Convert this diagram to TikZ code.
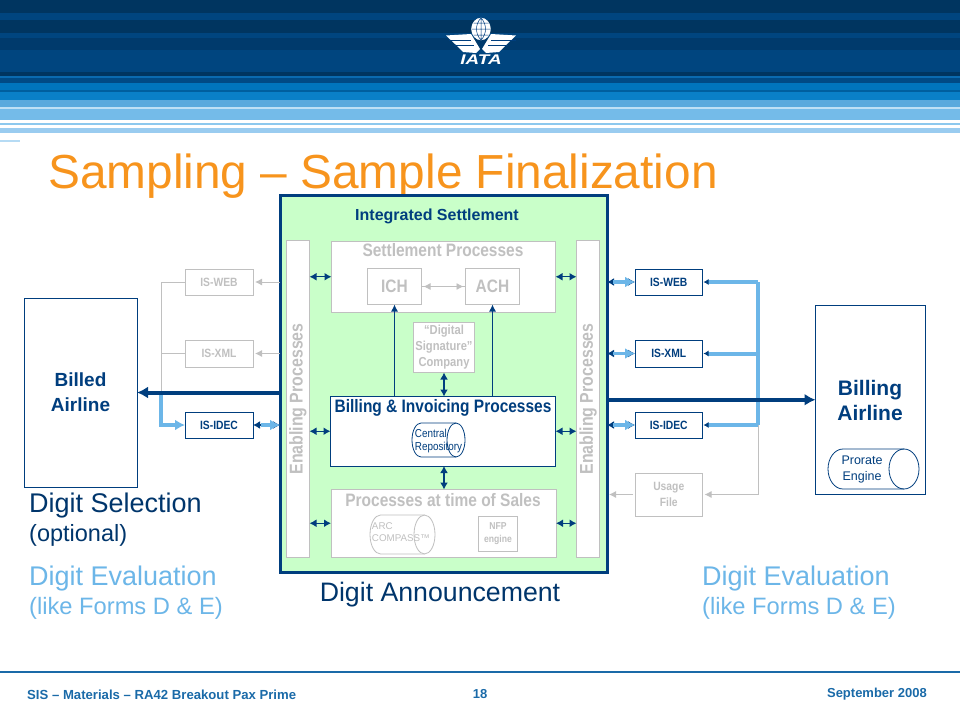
\documentclass[tikz,border=0pt]{standalone}
\usepackage{fontspec}
\setmainfont{Liberation Sans}
\newfontfamily\narrowfont[FakeStretch=0.86]{Liberation Sans}
\newfontfamily\logofont[FakeStretch=1.35]{Liberation Sans}
\usetikzlibrary{arrows.meta}
\definecolor{iatanavy}{HTML}{003E7E}
\definecolor{iatasky}{HTML}{6CB6E8}
\definecolor{iataorange}{HTML}{F7941D}
\definecolor{panelgreen}{HTML}{C9FFC9}
\definecolor{fadegray}{HTML}{C0C0C0}
\definecolor{footblue}{HTML}{1A6AA8}
% colour, left x, right x, middle y, half height, end radius
\newcommand{\drumbody}[6]{
  \draw[#1, line width=0.8pt] (#3-#6,#4-#5) -- (#2+#6,#4-#5) arc[start angle=-90, end angle=-270, x radius=#6, y radius=#5] -- (#3-#6,#4+#5);
  \draw[#1, line width=0.8pt] (#3-#6,#4) ellipse[x radius=#6, y radius=#5];
}
\tikzset{
  livebox/.style={draw=iatanavy, fill=white, line width=0.9pt, inner sep=0pt, outer sep=0pt, text=iatanavy, font=\narrowfont\bfseries\fontsize{12}{14}\selectfont, align=center},
  fadebox/.style={draw=fadegray, fill=white, line width=0.9pt, inner sep=0pt, outer sep=0pt, text=fadegray, font=\narrowfont\bfseries\fontsize{12}{15.5}\selectfont, align=center},
  sidebar/.style={fadebox, minimum width=23, minimum height=317},
  sidetext/.style={text=fadegray, rotate=90, inner sep=0pt, font=\narrowfont\fontsize{18.5}{20}\selectfont\bfseries},
  headtext/.style={inner sep=0pt, font=\narrowfont\bfseries\fontsize{18}{20}\selectfont},
  navyswap/.style={iatanavy, line width=1.4pt, {Latex[length=7pt,width=8pt]}-{Latex[length=7pt,width=8pt]}},
  navyup/.style={iatanavy, line width=1.1pt, -{Latex[length=7pt,width=7pt]}},
  fadeline/.style={fadegray, line width=0.9pt},
  fadearrow/.style={fadegray, line width=0.9pt, -{Latex[length=7pt,width=7pt]}, shorten >=2pt},
  skyline/.style={iatasky, line width=4pt},
  skyarrow/.style={iatasky, line width=3.5pt, -{Latex[length=10pt,width=11pt]}},
  skyin/.style={iatasky, line width=4pt, -{Latex[length=5pt,width=6pt,color=iatanavy]}, shorten >=1pt},
  trunk/.style={iatanavy, line width=4pt, -{Latex[length=11pt,width=12pt]}},
  bigtext/.style={anchor=west, inner sep=0pt},
}
\begin{document}
\begin{tikzpicture}[x=1pt,y=-1pt]
\useasboundingbox (0,0) rectangle (960,720);
% header stripes
\foreach \ya/\yb/\hex in {0/13/003560, 13/20/00457F, 20/33/003560, 33/38/00457F, 38/50/003A6C, 50/72/00457F, 72/76/003560, 76/78/0A6AB0, 78/83/004A85, 83/90/0075BD, 90/92/005F9F, 92/100/0A80C8, 100/107/5AA9DD, 107/109/BFE0F5, 109/120/74BBE9, 123/125/8CC8EE, 128/133/9ACCF0}{
  \definecolor{stripecol}{HTML}{\hex}
  \fill[stripecol] (0,\ya) rectangle (960,\yb);
}
\fill[iatasky!50] (0,139.5) rectangle (20,142);
% logo
\draw[white, fill=white, line width=0.4pt] (481,29) ellipse (9.5 and 11);
\draw[iatanavy, line width=0.5pt] (481,18) -- (481,40) (481,18) .. controls (475,24) and (475,34) .. (481,40) (481,18) .. controls (487,24) and (487,34) .. (481,40)
  (472,29) -- (490.5,29) (473.5,23) -- (488.5,23) (473.5,35) -- (488.5,35);
\fill[white] (446,35.5) -- (471,34) -- (480,49) -- (476,53) -- (463,52) -- (455,44) -- cycle;
\fill[white] (516,35.5) -- (491,34) -- (482,49) -- (486,53) -- (499,52) -- (507,44) -- cycle;
\draw[iatanavy, line width=0.7pt] (449,40) -- (471,40) (454,45) -- (474,45) (516,40) -- (491,40) (508,45) -- (488,45);
\node[inner sep=0pt, text=white, font=\logofont\bfseries\itshape\fontsize{14}{15}\selectfont] (logotext) at (481,59.5) {IATA};
% title
\node[bigtext, text=iataorange, font=\fontsize{47.8}{50}\selectfont] (titletext) at (48,176) {Sampling – Sample Finalization};
% footer
\draw[footblue, line width=2pt] (0,672) -- (960,672);
\node[bigtext, text=footblue, font=\bfseries\fontsize{13.15}{15}\selectfont] (footleft) at (27,694.5) {SIS – Materials – RA42 Breakout Pax Prime};
\node[inner sep=0pt, text=footblue, font=\bfseries\fontsize{13}{15}\selectfont] (footpage) at (480,694.5) {18};
\node[anchor=east, inner sep=0pt, text=footblue, font=\bfseries\fontsize{13}{15}\selectfont] (footdate) at (927,694.5) {September 2008};
% main panel
\node[draw=iatanavy, fill=panelgreen, line width=3pt, outer sep=0pt, inner sep=0pt, minimum width=327, minimum height=377] (panel) at (443.5,383.5) {};
\node[inner sep=0pt, text=iatanavy, font=\bfseries\fontsize{16}{17}\selectfont] (paneltitle) at (437,216.5) {Integrated Settlement};
\node[sidebar] (enableL) at (298,398.5) {};
\node[sidebar] (enableR) at (588,398.5) {};
\node[sidetext] (enableLtext) at (298,399) {Enabling Processes};
\node[sidetext] (enableRtext) at (588,399) {Enabling Processes};
\node[fadebox, minimum width=224, minimum height=70.5] (settle) at (443.5,276.75) {};
\node[headtext, text=fadegray] (settletext) at (443,250) {Settlement Processes};
\node[fadebox, minimum width=54, minimum height=36, font=\narrowfont\bfseries\fontsize{18}{20}\selectfont] (ich) at (394.5,286.5) {ICH};
\node[fadebox, minimum width=54, minimum height=36, font=\narrowfont\bfseries\fontsize{18}{20}\selectfont] (ach) at (492.5,286.5) {ACH};
\node[fadebox, minimum width=61, minimum height=50, font=\narrowfont\bfseries\fontsize{13}{16}\selectfont] (digital) at (444,347.5) {“Digital\\Signature”\\Company};
\node[livebox, minimum width=225, minimum height=69.5] (billing) at (443,431.25) {};
\node[headtext, text=iatanavy] (billingtext) at (443,408) {Billing \& Invoicing Processes};
\drumbody{iatanavy}{412}{465}{440}{17}{9}
\node[inner sep=0pt, text=iatanavy, align=left, font=\narrowfont\fontsize{11.5}{13}\selectfont] (repotext) at (438.5,441.5) {Central\\Repository};
\node[fadebox, minimum width=225, minimum height=67.5] (sales) at (443.5,523.25) {};
\node[headtext, text=fadegray] (salestext) at (443,500) {Processes at time of Sales};
\drumbody{fadegray}{370}{435}{534.5}{19.5}{10.5}
\node[inner sep=0pt, text=fadegray, align=left, font=\fontsize{9.8}{12.5}\selectfont] (arctext) at (401,532) {ARC\\COMPASS™};
\node[fadebox, minimum width=39, minimum height=35, font=\narrowfont\bfseries\fontsize{10}{13}\selectfont] (nfp) at (498,534) {NFP\\engine};
% left gateways
\node[fadebox, minimum width=68, minimum height=26] (iswebL) at (219,282) {IS-WEB};
\node[fadebox, minimum width=68, minimum height=27] (isxmlL) at (219,353.5) {IS-XML};
\node[livebox, minimum width=68, minimum height=26] (isidecL) at (219,425) {IS-IDEC};
% right gateways
\node[livebox, minimum width=67.5, minimum height=26] (iswebR) at (668.75,282) {IS-WEB};
\node[livebox, minimum width=67.5, minimum height=27] (isxmlR) at (668.75,353.5) {IS-XML};
\node[livebox, minimum width=67.5, minimum height=26] (isidecR) at (668.75,425) {IS-IDEC};
\node[fadebox, minimum width=67.5, minimum height=43] (usage) at (668.75,494.5) {Usage\\File};
% airlines
\node[livebox, minimum width=113, minimum height=189, font=\bfseries\fontsize{19}{25}\selectfont] (billed) at (80.5,392.5) {Billed\\Airline};
\node[livebox, minimum width=110, minimum height=188.5] (biller) at (870.5,399.75) {};
\node[inner sep=0pt, text=iatanavy, align=center, font=\bfseries\fontsize{21}{25}\selectfont] (billertext) at (870,400.5) {Billing\\Airline};
\drumbody{iatanavy}{828}{919}{469}{20}{15}
\node[inner sep=0pt, text=iatanavy, align=center, font=\fontsize{12.5}{16}\selectfont] (proratetext) at (862,469) {Prorate\\Engine};
% branch points
\coordinate (branchL) at (161,393);
\coordinate (branchR) at (758,425);
\coordinate (branchTop) at (758,282);
% grey links
\draw[fadeline] (iswebL.west) -| (branchL);
\draw[fadeline] (isxmlL.west) -- (branchL |- isxmlL);
\draw[fadearrow] (panel.west |- iswebL) -- (iswebL.east);
\draw[fadearrow] (panel.west |- isxmlL) -- (isxmlL.east);
\draw[fadearrow] (ich.east) -- (ach.west);
\draw[fadearrow] (ach.west) -- (ich.east);
\draw[fadeline] (branchR) |- (usage.east -| branchR);
\draw[fadearrow] (usage.east -| branchR) -- (usage.east);
\draw[fadearrow] ([xshift=-2pt]usage.west) -- (panel.east |- usage);
% sky links
\draw[skyline] (branchL) |- ([xshift=-8pt]isidecL.west);
\draw[skyarrow, line width=4pt] ([xshift=-10pt]isidecL.west) -- (isidecL.west);
\draw[skyline] (branchTop) -- (branchR);
\draw[skyin] (branchTop) -- (iswebR.east);
\draw[skyin] (branchTop |- isxmlR) -- (isxmlR.east);
\draw[skyin] (branchR) -- (isidecR.east);
% trunk lines
\draw[trunk] (panel.west |- billed) -- (billed.east);
\draw[trunk] (panel.east |- biller) -- (biller.west);
% panel links
\draw[navyswap] (enableL.east |- settle) -- (settle.west);
\draw[navyswap] (settle.east) -- (enableR.west |- settle);
\draw[navyswap] (enableL.east |- billing) -- (billing.west);
\draw[navyswap] (billing.east) -- (enableR.west |- billing);
\draw[navyswap] (enableL.east |- sales) -- (sales.west);
\draw[navyswap] (sales.east) -- (enableR.west |- sales);
\draw[navyup] (ich.south |- billing.north) -- (ich.south);
\draw[navyup] (ach.south |- billing.north) -- (ach.south);
\draw[navyswap] (digital.south |- billing.north) -- (digital.south);
\draw[navyswap] (digital.south |- billing.south) -- (digital.south |- sales.north);
% gateway links
\draw[navyswap] (isidecL.east) -- (panel.west |- isidecL);
\draw[skyarrow] ([xshift=8pt]isidecL.east) -- (panel.west |- isidecL);
\foreach \gate in {iswebR, isxmlR, isidecR}{
  \draw[navyswap] (panel.east |- \gate) -- (\gate.west);
  \draw[skyarrow] ([xshift=6pt]panel.east |- \gate) -- (\gate.west);
}
% captions
\node[bigtext, text=iatanavy!85!black, font=\fontsize{27}{30}\selectfont] (selecttext) at (29,505.5) {Digit Selection};
\node[bigtext, text=iatanavy!85!black, font=\fontsize{23.5}{26}\selectfont] (optionaltext) at (29,535) {(optional)};
\node[bigtext, text=iatasky, font=\fontsize{27}{30}\selectfont] (evalL) at (29,579) {Digit Evaluation};
\node[bigtext, text=iatasky, font=\fontsize{23.7}{26}\selectfont] (formsL) at (29,608) {(like Forms D \& E)};
\node[bigtext, text=iatasky, font=\fontsize{27}{30}\selectfont] (evalR) at (702,579) {Digit Evaluation};
\node[bigtext, text=iatasky, font=\fontsize{23.7}{26}\selectfont] (formsR) at (702,608) {(like Forms D \& E)};
\node[inner sep=0pt, text=iatanavy!85!black, font=\fontsize{26.7}{30}\selectfont] (announcetext) at (440,595) {Digit Announcement};
\end{tikzpicture}
\end{document}
